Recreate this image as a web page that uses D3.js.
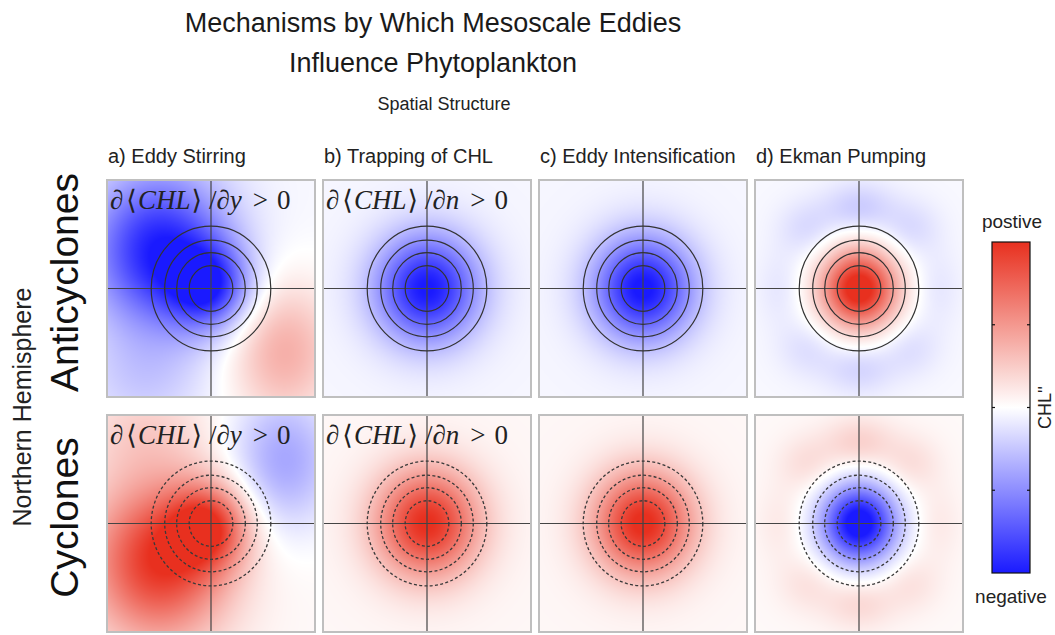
<!DOCTYPE html>
<html>
<head>
<meta charset="utf-8">
<script src="https://cdn.jsdelivr.net/npm/d3@7"></script>
<style>
  html, body { margin: 0; padding: 0; background: #fff; }
  svg { display: block; }
</style>
</head>
<body>
<svg id="chart" width="1055" height="635"></svg>
<script>
// ---- chart content ----
const titleLines = ["Mechanisms by Which Mesoscale Eddies", "Influence Phytoplankton"];
const subtitle = "Spatial Structure";
const mechanisms = ["a) Eddy Stirring", "b) Trapping of CHL", "c) Eddy Intensification", "d) Ekman Pumping"];
const eddyRows = ["Anticyclones", "Cyclones"];
const hemisphereLabel = "Northern Hemisphere";
// direction of the background gradient written in each column (null = none)
const gradientVariables = ["y", "n", null, null];
// SSH contour radii (eddy-normalised distance from the centre)
const contourRadii = [0.21, 0.33, 0.445, 0.575];
const colorbarTicks = [-1, -0.5, 0, 0.5, 1];
const colorbarEnds = ["negative", "postive"];
const colorbarTitle = "CHL''";

// Anticyclone CHL'' composites as sums of lobes: [amplitude, x, y, sx, sy]
const stirringLobes = [
  [-0.72, -0.02, 0.02, 0.38, 0.38],
  [-0.95, -0.50, 0.35, 0.66, 0.72],
  [0.42, 0.70, -0.58, 0.52, 0.64],
  [-0.18, -0.65, -0.85, 0.60, 0.50]
];
const trappingLobes = [[-0.97, 0, 0, 0.50, 0.50]];
const intensificationLobes = [[-0.99, 0, 0, 0.48, 0.48]];
const ekmanLobes = [
  [1.15, 0, 0, 0.36, 0.36],
  [-0.20, 0.00, 0.74, 0.34, 0.24],
  [-0.13, 0.50, 0.55, 0.28, 0.26],
  [-0.13, -0.50, 0.55, 0.28, 0.26],
  [-0.08, 0.76, 0.00, 0.22, 0.36],
  [-0.08, -0.76, 0.00, 0.22, 0.36],
  [-0.11, 0.50, -0.55, 0.28, 0.26],
  [-0.11, -0.50, -0.55, 0.28, 0.26],
  [-0.16, 0.00, -0.74, 0.34, 0.24]
];
const anticycloneLobes = [stirringLobes, trappingLobes, intensificationLobes, ekmanLobes];
const backgroundLevels = [-0.03, -0.04, -0.04, -0.03];
// cyclones: sign of the anomaly and whether the pattern is mirrored north-south
const cycloneSign = -1;
const cycloneMirror = [true, false, false, false];

// ---- layout ----
const svg = d3.select("#chart");
const colX = d3.scaleBand().domain(d3.range(4)).range([107, 963]).paddingInner(8 / 216);
const rowY = d3.scaleBand().domain(d3.range(2)).range([180, 632]).paddingInner(18 / 235);
const color = d3.scaleLinear().domain([-1, 0, 1]).range(["#1a1aff", "#ffffff", "#e8301f"]).clamp(true);

function fieldValue(lobes, bg, x, y) {
  let v = bg;
  for (const [a, x0, y0, sx, sy] of lobes) {
    const dx = (x - x0) / sx, dy = (y - y0) / sy;
    v += a * Math.exp(-(dx * dx + dy * dy));
  }
  return v;
}

const fontSans = "'Liberation Sans', Arial, Helvetica, sans-serif";
const fontSerif = "'Liberation Serif', 'DejaVu Serif', 'Times New Roman', serif";

// ---- titles ----
svg.append("text").attr("x", 433).attr("y", 32).attr("text-anchor", "middle")
  .style("font-family", fontSans).style("font-size", "27px").attr("fill", "#1a1a1a").text(titleLines[0]);
svg.append("text").attr("x", 433).attr("y", 72).attr("text-anchor", "middle")
  .style("font-family", fontSans).style("font-size", "27px").attr("fill", "#1a1a1a").text(titleLines[1]);
svg.append("text").attr("x", 444).attr("y", 110).attr("text-anchor", "middle")
  .style("font-family", fontSans).style("font-size", "18px").attr("fill", "#222").text(subtitle);

// ---- panels ----
const W = colX.bandwidth(), H = rowY.bandwidth();
eddyRows.forEach((rowName, r) => {
  mechanisms.forEach((mech, c) => {
    const x0 = colX(c), y0 = rowY(r);
    const xs = d3.scaleLinear().domain([-1, 1]).range([x0, x0 + W]);
    const ys = d3.scaleLinear().domain([-1, 1]).range([y0 + H, y0]);
    const g = svg.append("g");

    // colour field rasterised through the scales
    const cw = Math.round(W), ch = Math.round(H);
    const canvas = document.createElement("canvas");
    canvas.width = cw; canvas.height = ch;
    const ctx = canvas.getContext("2d");
    const img = ctx.createImageData(cw, ch);
    const lobes = anticycloneLobes[c];
    const sign = r === 0 ? 1 : cycloneSign;
    const mirror = r === 1 && cycloneMirror[c];
    for (let j = 0; j < ch; j++) {
      let yv = ys.invert(y0 + j + 0.5);
      if (mirror) yv = -yv;
      for (let i = 0; i < cw; i++) {
        const xv = xs.invert(x0 + i + 0.5);
        const v = sign * fieldValue(lobes, backgroundLevels[c], xv, yv);
        const col = d3.rgb(color(v));
        const k = (j * cw + i) * 4;
        img.data[k] = col.r; img.data[k + 1] = col.g; img.data[k + 2] = col.b; img.data[k + 3] = 255;
      }
    }
    ctx.putImageData(img, 0, 0);
    g.append("image").attr("x", x0).attr("y", y0).attr("width", W).attr("height", H)
      .attr("preserveAspectRatio", "none").attr("href", canvas.toDataURL());

    // crosshair through the eddy centre
    g.append("line").attr("x1", xs(0)).attr("x2", xs(0)).attr("y1", y0).attr("y2", y0 + H)
      .attr("stroke", "#444").attr("stroke-width", 1.2);
    g.append("line").attr("x1", x0).attr("x2", x0 + W).attr("y1", ys(0)).attr("y2", ys(0))
      .attr("stroke", "#444").attr("stroke-width", 1.2);

    // SSH contours: solid for anticyclones, dashed for cyclones
    g.selectAll("ellipse.ssh").data(contourRadii).join("ellipse")
      .attr("cx", xs(0)).attr("cy", ys(0))
      .attr("rx", d => xs(d) - xs(0)).attr("ry", d => ys(0) - ys(d))
      .attr("fill", "none")
      .attr("stroke", r === 0 ? "#333" : "#3a3a3a")
      .attr("stroke-width", r === 0 ? 1.2 : 1.3)
      .attr("stroke-dasharray", r === 0 ? null : "3,2.3");

    // frame
    g.append("rect").attr("x", x0).attr("y", y0).attr("width", W).attr("height", H)
      .attr("fill", "none").attr("stroke", "#bfbfbf").attr("stroke-width", 2);

    // gradient annotation, set piece by piece like a typeset formula
    const gv = gradientVariables[c];
    if (gv) {
      const t = g.append("text").attr("x", x0 + 3).attr("y", y0 + 29)
        .style("font-family", fontSerif).style("font-size", "27px").attr("fill", "#222");
      const pieces = [
        ["\u2202", true, 0], ["\u27E8", false, 3], ["CHL", true, 1], ["\u27E9", false, 1],
        ["/", false, 7], ["\u2202", true, 0], [gv, true, 0], [">", false, 11], ["0", false, 9]
      ];
      pieces.forEach(([s, it, dx]) => {
        t.append("tspan").attr("dx", dx).style("font-style", it ? "italic" : "normal").text(s);
      });
    }
  });
});

// column titles
svg.selectAll("text.mech").data(mechanisms).join("text")
  .attr("x", (d, i) => colX(i) + 1).attr("y", 163)
  .style("font-family", fontSans).style("font-size", "20px").attr("fill", "#222")
  .text(d => d);

// row titles
svg.selectAll("text.row").data(eddyRows).join("text")
  .attr("transform", (d, i) => `translate(78,${rowY(i) + H / 2 - 6}) rotate(-90)`)
  .attr("text-anchor", "middle")
  .style("font-family", fontSans).style("font-size", "39px").attr("fill", "#111")
  .text(d => d);
svg.append("text")
  .attr("transform", `translate(31,407) rotate(-90)`)
  .attr("text-anchor", "middle")
  .style("font-family", fontSans).style("font-size", "25px").attr("fill", "#222")
  .text(hemisphereLabel);

// ---- colorbar ----
const cbX = 992, cbW = 38;
const cbY = d3.scaleLinear().domain([-1, 1]).range([573, 242]);
const defs = svg.append("defs");
const grad = defs.append("linearGradient").attr("id", "cbGrad")
  .attr("x1", 0).attr("x2", 0).attr("y1", 1).attr("y2", 0);
grad.selectAll("stop").data(d3.range(-1, 1.0001, 0.1)).join("stop")
  .attr("offset", d => (d + 1) / 2)
  .attr("stop-color", d => color(d));
svg.append("rect").attr("x", cbX).attr("y", cbY(1)).attr("width", cbW).attr("height", cbY(-1) - cbY(1))
  .attr("fill", "url(#cbGrad)").attr("stroke", "#111").attr("stroke-width", 1.2);
const inner = colorbarTicks.filter(t => Math.abs(t) < 1);
svg.selectAll("line.tl").data(inner).join("line")
  .attr("x1", cbX).attr("x2", cbX + 3).attr("y1", d => cbY(d)).attr("y2", d => cbY(d))
  .attr("stroke", "#111").attr("stroke-width", 1.2);
svg.selectAll("line.tr").data(inner).join("line")
  .attr("x1", cbX + cbW - 3).attr("x2", cbX + cbW).attr("y1", d => cbY(d)).attr("y2", d => cbY(d))
  .attr("stroke", "#111").attr("stroke-width", 1.2);
svg.append("text").attr("x", 1012).attr("y", 228).attr("text-anchor", "middle")
  .style("font-family", fontSans).style("font-size", "19px").attr("fill", "#222").text(colorbarEnds[1]);
svg.append("text").attr("x", 1011).attr("y", 603).attr("text-anchor", "middle")
  .style("font-family", fontSans).style("font-size", "19px").attr("fill", "#222").text(colorbarEnds[0]);
svg.append("text").attr("transform", `translate(1051,${cbY(0)}) rotate(-90)`).attr("text-anchor", "middle")
  .style("font-family", fontSans).style("font-size", "18px").attr("fill", "#222").text(colorbarTitle);
</script>
</body>
</html>
